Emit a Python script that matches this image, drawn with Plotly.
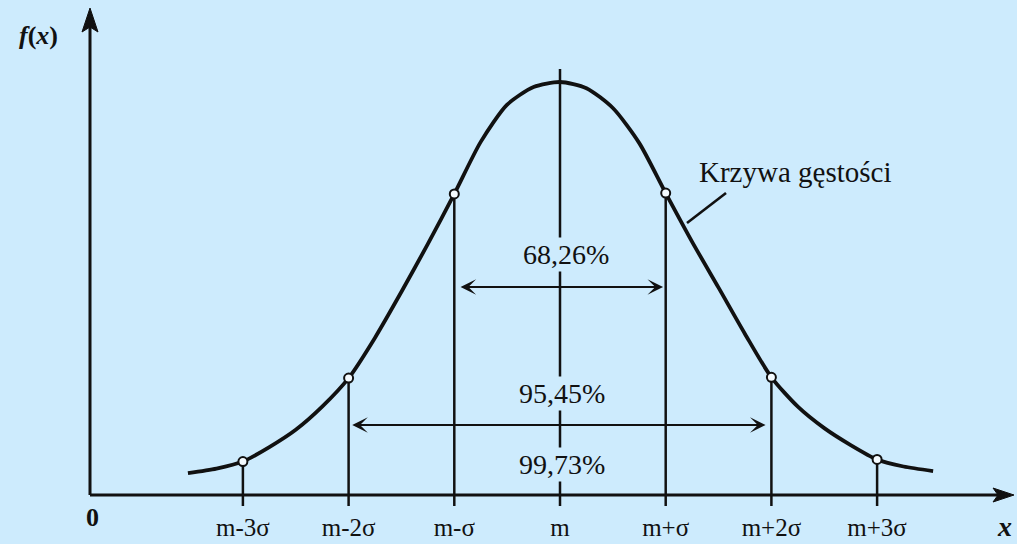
import plotly.graph_objects as go

# ---------------- data ----------------
# positions in units of sigma relative to the mean m, density relative to the peak
sigma_pos = [-3.52, -3.25, -3.0, -2.75, -2.5, -2.25, -2.0, -1.75, -1.5, -1.25, -1.0,
             -0.75, -0.5, -0.25, 0.0, 0.25, 0.5, 0.75, 1.0, 1.25, 1.5, 1.75, 2.0,
             2.25, 2.5, 2.75, 3.0, 3.25, 3.53]
density = [0.053, 0.064, 0.081, 0.116, 0.158, 0.214, 0.283, 0.381, 0.492, 0.608, 0.729,
           0.855, 0.945, 0.988, 1.000, 0.985, 0.937, 0.852, 0.731, 0.613, 0.502, 0.390, 0.285,
           0.214, 0.162, 0.121, 0.086, 0.069, 0.058]

tick_pos = [-3, -2, -1, 0, 1, 2, 3]
tick_labels = ["m-3σ", "m-2σ", "m-σ", "m", "m+σ", "m+2σ", "m+3σ"]
marker_pos = [-3, -2, -1, 1, 2, 3]

interval_k = [1, 2]
interval_labels = ["68,26%", "95,45%", "99,73%"]
curve_label = "Krzywa gęstości"

# ---------------- styling / layout constants ----------------
W, H = 1017, 544
BG = "#cdebfd"
INK = "#111111"
SERIF = "Liberation Serif, Times New Roman, serif"

PX_U = 105.7   # pixels per sigma
PX_V = 413.0   # pixels per unit density
X0_PX = 560.0  # pixel of the mean
Y0_PX = 495.0  # pixel of the baseline

u_range = [-X0_PX / PX_U, (W - X0_PX) / PX_U]
v_range = [-(H - Y0_PX) / PX_V, Y0_PX / PX_V]

dens_at = dict(zip(sigma_pos, density))

fig = go.Figure()

# vertical lines from below the axis (tick) up to the curve
vx, vy = [], []
tick_depth = -11 / PX_V
for k in tick_pos:
    top = dens_at[float(k)] if k != 0 else dens_at[0.0] + 13 / PX_V
    vx += [k, k, None]
    vy += [tick_depth, top, None]
fig.add_trace(go.Scatter(x=vx, y=vy, mode="lines",
                         line=dict(color=INK, width=2.5),
                         hoverinfo="skip", showlegend=False))

# density curve
fig.add_trace(go.Scatter(x=sigma_pos, y=density, mode="lines",
                         line=dict(color=INK, width=3.8, shape="spline", smoothing=0.7),
                         hoverinfo="skip", showlegend=False))

# open circles on the curve
fig.add_trace(go.Scatter(x=marker_pos, y=[dens_at[float(k)] for k in marker_pos],
                         mode="markers",
                         marker=dict(symbol="circle", size=9, color="#f4fbff",
                                     line=dict(color=INK, width=2)),
                         hoverinfo="skip", showlegend=False))

# tick labels
fig.add_trace(go.Scatter(x=tick_pos, y=[(Y0_PX - 530) / PX_V] * len(tick_pos),
                         mode="text", text=tick_labels,
                         textfont=dict(family=SERIF, size=25, color=INK),
                         textposition="middle center", cliponaxis=False,
                         hoverinfo="skip", showlegend=False))

shapes = []
# axes
u_yaxis = (90 - X0_PX) / PX_U
v_ytip = (Y0_PX - 8) / PX_V
u_xtip = (1014 - X0_PX) / PX_U
shapes.append(dict(type="line", xref="x", yref="y", x0=u_yaxis, y0=0,
                   x1=u_yaxis, y1=v_ytip - 18 / PX_V, line=dict(color=INK, width=3)))
shapes.append(dict(type="line", xref="x", yref="y", x0=u_yaxis, y0=0,
                   x1=u_xtip - 15 / PX_U, y1=0, line=dict(color=INK, width=3)))
# arrowheads of the axes
L, hw, notch = 24, 8, 19
p_up = (f"M{u_yaxis},{v_ytip} L{u_yaxis - hw / PX_U},{v_ytip - L / PX_V} "
        f"L{u_yaxis},{v_ytip - notch / PX_V} L{u_yaxis + hw / PX_U},{v_ytip - L / PX_V} Z")
L2, hw2, notch2 = 21, 7, 16
p_right = (f"M{u_xtip},0 L{u_xtip - L2 / PX_U},{hw2 / PX_V} "
           f"L{u_xtip - notch2 / PX_U},0 L{u_xtip - L2 / PX_U},{-hw2 / PX_V} Z")
for p in (p_up, p_right):
    shapes.append(dict(type="path", xref="x", yref="y", path=p,
                       fillcolor=INK, line=dict(color=INK, width=1)))
# leader line of the curve label
shapes.append(dict(type="line", xref="x", yref="y",
                   x0=(726 - X0_PX) / PX_U, y0=(Y0_PX - 193) / PX_V,
                   x1=(687 - X0_PX) / PX_U, y1=(Y0_PX - 223) / PX_V,
                   line=dict(color=INK, width=2.6)))

annotations = []
# double-headed interval arrows
arrow_specs = {1: (-0.955, 0.975, (Y0_PX - 287) / PX_V),
               2: (-1.98, 1.945, (Y0_PX - 425) / PX_V)}
for k in interval_k:
    a, b, v = arrow_specs[k]
    annotations.append(dict(x=b, y=v, ax=a, ay=v, xref="x", yref="y",
                            axref="x", ayref="y", text="", showarrow=True,
                            arrowhead=3, startarrowhead=3, arrowside="end+start",
                            arrowsize=1.3, startarrowsize=1.3, arrowwidth=2,
                            arrowcolor=INK))

# percentage labels (with background so they break the centre line)
label_px = [(566, 254), (562, 393), (562, 464)]
for txt, (px, py) in zip(interval_labels, label_px):
    annotations.append(dict(x=(px - X0_PX) / PX_U, y=(Y0_PX - py) / PX_V,
                            xref="x", yref="y", text=txt, showarrow=False,
                            font=dict(family=SERIF, size=28, color=INK),
                            bgcolor=BG, borderpad=1,
                            xanchor="center", yanchor="middle"))

# curve label
annotations.append(dict(x=(795 - X0_PX) / PX_U, y=(Y0_PX - 172) / PX_V,
                        xref="x", yref="y", text=curve_label, showarrow=False,
                        font=dict(family=SERIF, size=29, color=INK),
                        xanchor="center", yanchor="middle"))
# axis labels
annotations.append(dict(x=(38 - X0_PX) / PX_U, y=(Y0_PX - 35) / PX_V,
                        xref="x", yref="y", text="<b><i>f</i>(<i>x</i>)</b>",
                        showarrow=False, font=dict(family=SERIF, size=26, color=INK)))
annotations.append(dict(x=(92 - X0_PX) / PX_U, y=(Y0_PX - 517) / PX_V,
                        xref="x", yref="y", text="<b>0</b>",
                        showarrow=False, font=dict(family=SERIF, size=26, color=INK)))
annotations.append(dict(x=(1004 - X0_PX) / PX_U, y=(Y0_PX - 526) / PX_V,
                        xref="x", yref="y", text="<b><i>x</i></b>",
                        showarrow=False, font=dict(family=SERIF, size=28, color=INK)))

fig.update_layout(
    width=W, height=H, autosize=False,
    margin=dict(l=0, r=0, t=0, b=0),
    paper_bgcolor=BG, plot_bgcolor=BG,
    xaxis=dict(range=u_range, visible=False, fixedrange=True),
    yaxis=dict(range=v_range, visible=False, fixedrange=True),
    shapes=shapes, annotations=annotations,
    showlegend=False,
)

fig.write_html("out.html",
               config={"displayModeBar": False, "staticPlot": True},
               post_script="document.body.style.margin='0';"
                           "document.body.style.padding='0';"
                           "document.body.style.overflow='hidden';")
